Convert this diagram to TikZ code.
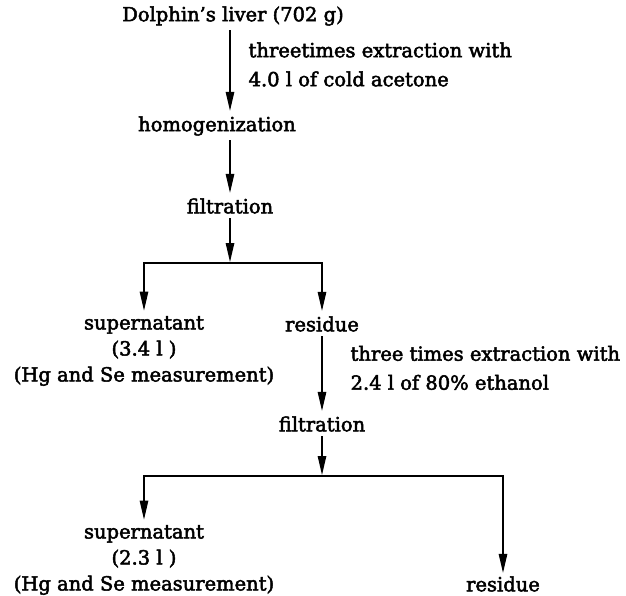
\documentclass[tikz,border=0pt]{standalone}
\usepackage{fontspec}
\newfontfamily\flowfont{DejaVu Serif}[Ligatures=TeX, FakeBold=2.5]
\usepackage{tikz}
\usetikzlibrary{arrows.meta}

\begin{document}
\begin{tikzpicture}[x=1pt, y=-1pt, ->, >={Triangle[length=19pt,width=8.5pt]}, shorten >=1pt, line width=1.2pt, inner sep=4pt, align=center, font=\flowfont\fontsize{19.5}{26}\selectfont]

\useasboundingbox (0,0) rectangle (626,595);

\node (liver) at (233,16) {Dolphin’s liver (702 g)};
\node (homog) [node distance=110pt, below of=liver, xshift=-16pt] {homogenization};
\node (filt1) [node distance=80pt, below of=homog, xshift=13pt] {filtration};
\coordinate[node distance=57pt, below of=filt1] (br1);
\node (sup1) [node distance=88pt, below of=br1, xshift=-86pt] {supernatant\\(3.4 l )\\(Hg and Se measurement)};
\node (res1) [node distance=61pt, below of=br1, xshift=92pt] {residue};
\node (filt2) [node distance=100pt, below of=res1] {filtration};
\coordinate[node distance=52pt, below of=filt2] (br2);
\node (sup2) [node distance=84pt, below of=br2, xshift=-178pt] {supernatant\\(2.3 l )\\(Hg and Se measurement)};
\node (res2) [node distance=108pt, below of=br2, xshift=181pt, inner sep=2pt] {residue};

\tikzstyle{every node}=[font=\flowfont\fontsize{19.5}{29}\selectfont]
\draw (liver.south -| filt1) -- node[right=14pt, align=left, pos=0.42] {threetimes extraction with\\4.0 l of cold acetone} (homog.north -| filt1);
\draw (homog.south -| filt1) -- (filt1);
\draw (filt1) -- (br1);
\draw (br1) -| (sup1);
\draw (br1) -| (res1);

\draw (res1) -- node[right=24pt, align=left, pos=0.42] {three times extraction with\\2.4 l of 80\% ethanol} (filt2);
\draw (filt2) -- (br2);
\draw (br2) -| (sup2);
\draw (br2) -| (res2);

\end{tikzpicture}
\end{document}
